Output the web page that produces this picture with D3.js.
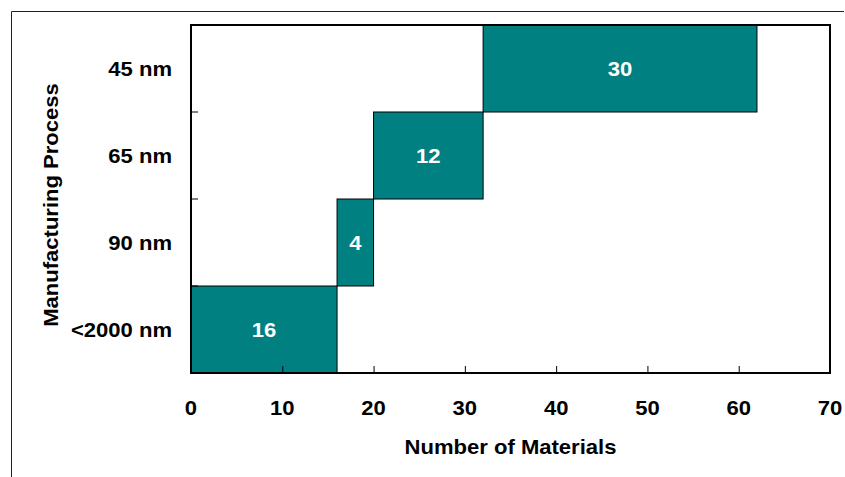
<!DOCTYPE html>
<html>
<head>
<meta charset="utf-8">
<script src="https://cdn.jsdelivr.net/npm/d3@7"></script>
<style>
  html, body { margin: 0; padding: 0; background: #fff; }
  svg { display: block; }
  text { font-family: Arial, "Liberation Sans", Helvetica, sans-serif; font-weight: bold; }
</style>
</head>
<body>
<svg id="chart" width="845" height="477"></svg>
<script>
// Manufacturing processes, bottom to top
const processes = ["<2000 nm", "90 nm", "65 nm", "45 nm"];
// Number of materials introduced with each process
const materialCounts = [16, 4, 12, 30];
// X-axis tick values
const xTicks = [0, 10, 20, 30, 40, 50, 60, 70];

const svg = d3.select("#chart");
const W = 845, H = 477;
const plot = { left: 191, right: 830, top: 25, bottom: 373 };
const teal = "#008080";
const fontSize = 21;
const stretch = 1.05; // slightly wide lettering

const place = (px, py) => `translate(${px},${py}) scale(${stretch},1)`;

// Cumulative start/end of each step
let run = 0;
const steps = processes.map((p, i) => {
  const start = run;
  run += materialCounts[i];
  return { process: p, value: materialCounts[i], start, end: run };
});

const x = d3.scaleLinear().domain([0, 70]).range([plot.left, plot.right]);
const y = d3.scaleBand().domain(processes.slice().reverse()).range([plot.top, plot.bottom]).padding(0);

// Outer open frame (top and left edges)
svg.append("path")
  .attr("d", `M11.5,${H} L11.5,11.5 L${W - 1},11.5`)
  .attr("fill", "none").attr("stroke", "#222").attr("stroke-width", 1);

// Bars
svg.append("g").selectAll("rect").data(steps).join("rect")
  .attr("x", d => x(d.start))
  .attr("y", d => y(d.process))
  .attr("width", d => x(d.end) - x(d.start))
  .attr("height", y.bandwidth())
  .attr("fill", teal)
  .attr("stroke", "#000")
  .attr("stroke-width", 1);

// Value labels
svg.append("g").selectAll("text").data(steps).join("text")
  .attr("transform", d => place(x((d.start + d.end) / 2), y(d.process) + y.bandwidth() / 2))
  .attr("dy", "0.36em")
  .attr("text-anchor", "middle")
  .attr("fill", "#fff")
  .attr("font-size", fontSize)
  .text(d => d.value);

// Inner tick marks on the x axis
const xAxis = d3.axisTop(x).tickValues(xTicks.slice(1, -1)).tickSize(7).tickFormat("");
svg.append("g").attr("transform", `translate(0,${plot.bottom})`).call(xAxis)
  .call(g => g.select(".domain").remove())
  .call(g => g.selectAll("line").attr("stroke", "#000"));

// Inner tick marks on the y axis at band boundaries
const boundaries = processes.slice(1).map(p => y(p) + y.bandwidth());
svg.append("g").selectAll("line").data(boundaries).join("line")
  .attr("x1", plot.left).attr("x2", plot.left + 7)
  .attr("y1", d => d).attr("y2", d => d)
  .attr("stroke", "#000");

// Plot frame
svg.append("rect")
  .attr("x", plot.left).attr("y", plot.top)
  .attr("width", plot.right - plot.left).attr("height", plot.bottom - plot.top)
  .attr("fill", "none").attr("stroke", "#000").attr("stroke-width", 2);

// X tick labels
svg.append("g").selectAll("text").data(xTicks).join("text")
  .attr("transform", d => place(x(d), 415))
  .attr("text-anchor", "middle")
  .attr("font-size", fontSize)
  .attr("fill", "#000")
  .text(d => d);

// Y category labels
svg.append("g").selectAll("text").data(processes).join("text")
  .attr("transform", d => place(172, y(d) + y.bandwidth() / 2))
  .attr("dy", "0.36em")
  .attr("text-anchor", "end")
  .attr("font-size", fontSize)
  .attr("fill", "#000")
  .text(d => d);

// Axis titles
svg.append("text")
  .attr("transform", place((plot.left + plot.right) / 2, 454))
  .attr("text-anchor", "middle")
  .attr("font-size", fontSize)
  .attr("fill", "#000")
  .text("Number of Materials");

svg.append("text")
  .attr("transform", `translate(58,205) rotate(-90) scale(${stretch},1)`)
  .attr("text-anchor", "middle")
  .attr("font-size", fontSize)
  .attr("fill", "#000")
  .text("Manufacturing Process");
</script>
</body>
</html>
